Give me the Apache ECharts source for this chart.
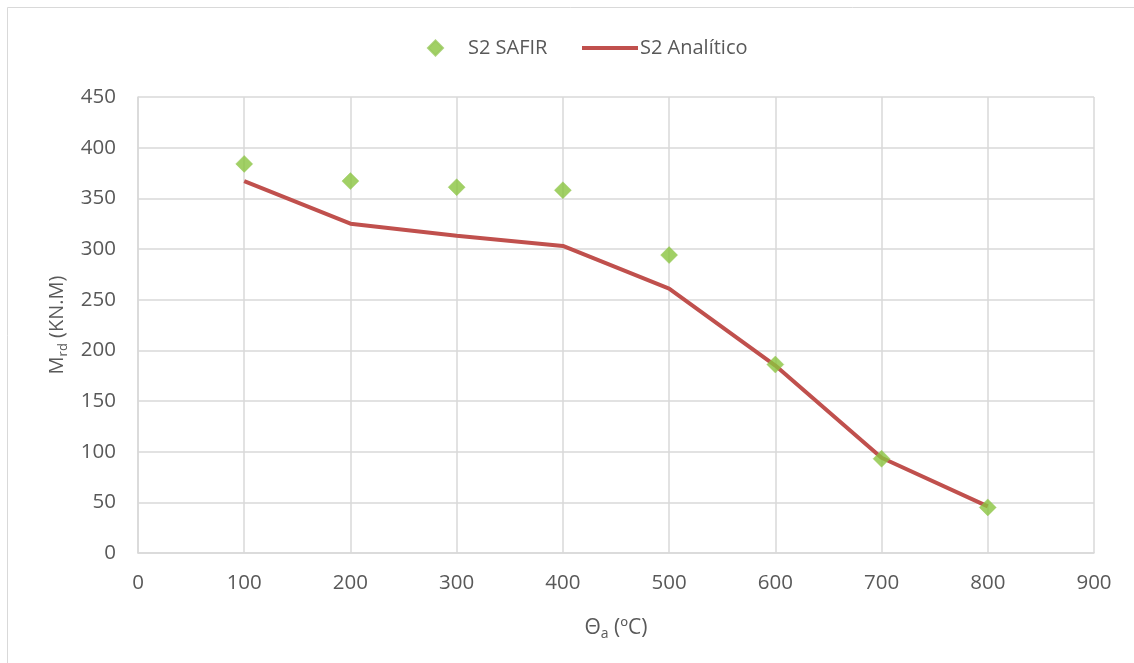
<!DOCTYPE html>
<html>
<head>
<meta charset="utf-8">
<title>Mrd vs temperatura</title>
<script src="https://cdn.jsdelivr.net/npm/echarts@6/dist/echarts.min.js"></script>
<style>
  html, body { margin: 0; padding: 0; background: #fff; }
  #chart { width: 1134px; height: 663px; }
</style>
</head>
<body>
<div id="chart"></div>
<script>
// Temperatures (ºC)
const temperatures = [100, 200, 300, 400, 500, 600, 700, 800];
// Resisting moment, numerical model (kN.m)
const safirValues = [384, 367, 361, 358, 294, 186, 93, 45];
// Resisting moment, analytical method (kN.m)
const analyticValues = [367, 325, 313, 303, 261, 185, 94, 46];
// Axis ticks
const xTicks = [0, 100, 200, 300, 400, 500, 600, 700, 800, 900];
const yTicks = [0, 50, 100, 150, 200, 250, 300, 350, 400, 450];

const FONT = '"Open Sans", "Liberation Sans", sans-serif';
const TXT = '#595959';
const GRID = '#d9d9d9';
const GREEN = '#8ac43e';
const RED = '#c0504d';

const chart = echarts.init(document.getElementById('chart'), null, { renderer: 'canvas' });

chart.setOption({
  backgroundColor: '#ffffff',
  animation: false,
  textStyle: { fontFamily: FONT, color: TXT },
  graphic: [
    { type: 'line', shape: { x1: 7.5, y1: 7.5, x2: 1134, y2: 7.5 }, style: { stroke: GRID, lineWidth: 1 }, silent: true },
    { type: 'line', shape: { x1: 7.5, y1: 7.5, x2: 7.5, y2: 663 }, style: { stroke: GRID, lineWidth: 1 }, silent: true }
  ],
  legend: [
    {
      data: [{ name: 'S2 SAFIR', icon: 'diamond' }],
      left: 422, top: 33,
      itemWidth: 15, itemHeight: 15,
      textStyle: { fontFamily: FONT, fontSize: 20, color: TXT, padding: [0, 0, 0, 20] }
    },
    {
      data: [{ name: 'S2 Analítico', icon: 'rect' }],
      left: 577, top: 33,
      itemWidth: 56, itemHeight: 4,
      itemGap: 0,
      textStyle: { fontFamily: FONT, fontSize: 20, color: TXT, padding: [0, 0, 0, -3] }
    }
  ],
  grid: { left: 138, right: 40, top: 97, bottom: 110, containLabel: false },
  xAxis: {
    type: 'value',
    min: xTicks[0], max: xTicks[xTicks.length - 1], interval: 100,
    name: '{m|Θ}{s|a}{m| (ºC)}',
    nameLocation: 'middle', nameGap: 62,
    nameTextStyle: {
      rich: {
        m: { fontFamily: FONT, fontSize: 21, color: TXT },
        s: { fontFamily: FONT, fontSize: 14, color: TXT, verticalAlign: 'bottom', padding: [12, 0, 0, 0] }
      }
    },
    axisLine: { show: true, lineStyle: { color: GRID, width: 1.5 } },
    axisTick: { show: false },
    axisLabel: { fontFamily: FONT, fontSize: 20.5, color: TXT, margin: 20 },
    splitLine: { show: true, lineStyle: { color: GRID, width: 1.5 } }
  },
  yAxis: {
    type: 'value',
    min: yTicks[0], max: yTicks[yTicks.length - 1], interval: 50,
    name: '{m|M}{s|rd}{m| (KN.M)}',
    nameLocation: 'middle', nameGap: 66, nameRotate: 90,
    nameTextStyle: {
      rich: {
        m: { fontFamily: FONT, fontSize: 20, color: TXT },
        s: { fontFamily: FONT, fontSize: 13, color: TXT, verticalAlign: 'bottom', padding: [12, 0, 0, 0] }
      }
    },
    axisLine: { show: true, lineStyle: { color: GRID, width: 1.5 } },
    axisTick: { show: false },
    axisLabel: { fontFamily: FONT, fontSize: 20.5, color: TXT, margin: 22 },
    splitLine: { show: true, lineStyle: { color: GRID, width: 1.5 } }
  },
  series: [
    {
      name: 'S2 Analítico',
      type: 'line',
      data: temperatures.map((t, i) => [t, analyticValues[i]]),
      symbol: 'none',
      lineStyle: { color: RED, width: 4 },
      itemStyle: { color: RED },
      z: 2
    },
    {
      name: 'S2 SAFIR',
      type: 'scatter',
      data: temperatures.map((t, i) => [t, safirValues[i]]),
      symbol: 'diamond',
      symbolSize: 17,
      itemStyle: { color: GREEN, borderColor: '#98c85c', borderWidth: 0.5 },
      z: 3
    }
  ]
});
</script>
</body>
</html>
